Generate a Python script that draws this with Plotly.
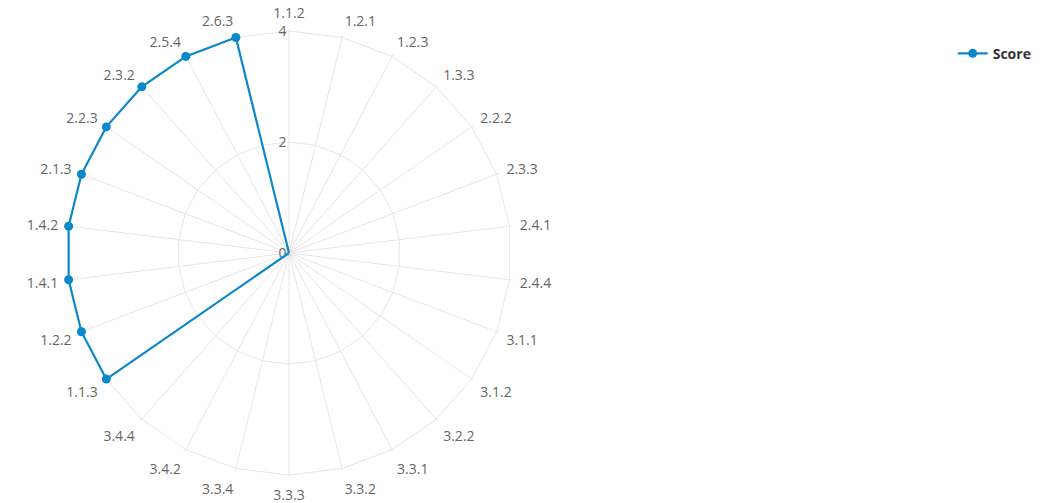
import plotly.graph_objects as go

categories = ["1.1.2", "1.2.1", "1.2.3", "1.3.3", "2.2.2", "2.3.3", "2.4.1", "2.4.4",
              "3.1.1", "3.1.2", "3.2.2", "3.3.1", "3.3.2", "3.3.3", "3.3.4", "3.4.2",
              "3.4.4", "1.1.3", "1.2.2", "1.4.1", "1.4.2", "2.1.3", "2.2.3", "2.3.2",
              "2.5.4", "2.6.3"]
scores = [0, 0, 0, 0, 0, 0, 0, 0, 0, 0, 0, 0, 0, 0, 0, 0, 0, 4, 4, 4, 4, 4, 4, 4, 4, 4]
radial_ticks = [0, 2, 4]

color = "#0a88c9"
fig = go.Figure()
fig.add_trace(go.Scatterpolar(
    r=scores + scores[:1],
    theta=categories + categories[:1],
    mode="lines+markers",
    name="Score",
    line=dict(color=color, width=2.2),
    marker=dict(color=color, size=9),
    cliponaxis=False,
    showlegend=True,
))

W, H = 1041, 503
rmax = 4.04
cx, cy, R = 281, 245, 222 * rmax / 4
fig.update_layout(
    width=W, height=H,
    margin=dict(l=0, r=0, t=0, b=0),
    paper_bgcolor="white",
    font=dict(family="Open Sans, Noto Sans, sans-serif", size=14, color="#666666"),
    polar=dict(
        domain=dict(x=[(cx - R) / W, (cx + R) / W], y=[(H - cy - R) / H, (H - cy + R) / H]),
        gridshape="linear",
        bgcolor="white",
        radialaxis=dict(
            range=[0, rmax], tickvals=radial_ticks, angle=90, tickangle=90,
            side="counterclockwise",
            showline=False, gridcolor="#e6e6e6", gridwidth=1, ticks="",
            tickfont=dict(size=14, color="#666666"),
            layer="below traces",
        ),
        angularaxis=dict(
            direction="clockwise", rotation=90,
            categoryorder="array", categoryarray=categories,
            showline=False,
            gridcolor="#e6e6e6", ticks="outside", ticklen=5, tickcolor="rgba(0,0,0,0)",
            tickfont=dict(size=14, color="#666666"),
            layer="below traces",
        ),
    ),
    legend=dict(x=0.9075, y=0.909, xanchor="left", yanchor="middle",
                font=dict(size=14, color="#333333", weight="bold"), bgcolor="rgba(0,0,0,0)"),
)

fig.write_html("out.html")
